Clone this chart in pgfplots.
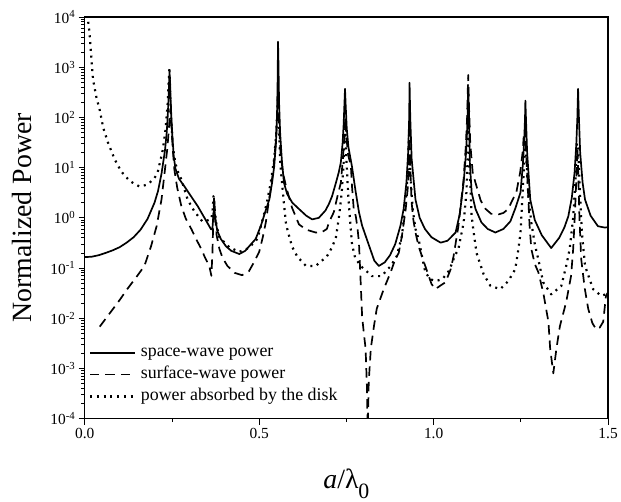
\documentclass[border=0pt]{standalone}
\usepackage{pgfplots}
\pgfplotsset{compat=1.18}
\usepackage{fontspec}
\setmainfont{Liberation Serif}

\begin{document}
\begin{tikzpicture}
\begin{axis}[
  scale only axis, width=525bp, height=403bp,
  xmin=0, xmax=1.5, ymin=1e-4, ymax=1e4, ymode=log,
  axis line style={line width=1.2bp},
  xtick={0,0.5,1.0,1.5}, xticklabels={0.0,0.5,1.0,1.5},
  minor xtick={0.25,0.75,1.25},
  ytick={1e-4,1e-3,1e-2,1e-1,1,1e1,1e2,1e3,1e4},
  yticklabels={10\textsuperscript{-4},10\textsuperscript{-3},10\textsuperscript{-2},10\textsuperscript{-1},10\textsuperscript{0},10\textsuperscript{1},10\textsuperscript{2},10\textsuperscript{3},10\textsuperscript{4}},
  tick pos=left, tick align=outside,
  major tick length=6bp, minor tick length=3.5bp,
  every tick/.style={black, line width=0.8bp},
  ticklabel style={font=\fontsize{15.5}{15.5}\selectfont},
  xlabel={\textit{a}/λ\raisebox{-0.36em}{\fontsize{22}{22}\selectfont 0}},
  ylabel={Normalized Power},
  every axis x label/.style={at={(axis description cs:0.5,0)}, yshift=-70bp, anchor=base, font=\fontsize{28}{28}\selectfont},
  every axis y label/.style={at={(axis description cs:0,0.5)}, xshift=-63bp, rotate=90, anchor=center, font=\fontsize{28}{28}\selectfont},
  legend cell align=left,
  legend image code/.code={\draw[#1] (0bp,0bp) -- (45bp,0bp); \path (48bp,0bp);},
  legend style={at={(axis description cs:0,0)}, anchor=south west, xshift=1bp, yshift=9bp, draw=none, fill=none,
    font=\fontsize{18}{21}\selectfont, row sep=0pt,
    nodes={inner sep=2bp, text height=13bp, text depth=5bp}},
  every axis plot/.append style={line width=1.7bp, line join=round},
]
\addplot[black, solid] coordinates {
(0.000,0.165) (0.02,0.168) (0.04,0.18) (0.06,0.20) (0.08,0.225) (0.10,0.26) (0.12,0.32) (0.14,0.41) (0.16,0.58) (0.18,0.95)
(0.20,2.0) (0.21,3.4) (0.22,7.5) (0.23,22) (0.235,50) (0.238,110) (0.240,220) (0.242,550) (0.243,800) (0.244,600)
(0.246,250) (0.248,110) (0.251,45) (0.255,17) (0.26,9.5) (0.27,6) (0.286,4.2) (0.30,3) (0.324,1.7) (0.345,0.95)
(0.362,0.59) (0.366,0.6) (0.369,1.2) (0.371,1.7) (0.374,1.0) (0.38,0.55) (0.39,0.38) (0.405,0.27) (0.42,0.22) (0.443,0.19)
(0.46,0.22) (0.475,0.29) (0.49,0.38) (0.505,0.7) (0.52,1.5) (0.529,2.3) (0.537,5) (0.543,10.5) (0.548,30) (0.551,100)
(0.553,600) (0.554,3200) (0.555,1500) (0.557,200) (0.56,50) (0.565,14) (0.571,5) (0.58,3) (0.595,2) (0.614,1.5)
(0.635,1.1) (0.652,0.93) (0.671,1.0) (0.69,1.4) (0.70,1.9) (0.709,2.7) (0.72,5) (0.728,8) (0.734,12.6) (0.739,30)
(0.742,70) (0.744,160) (0.746,370) (0.748,170) (0.751,60) (0.756,25) (0.766,10.5) (0.776,3.5) (0.786,1.3) (0.795,0.7)
(0.81,0.35) (0.83,0.14) (0.843,0.11) (0.86,0.13) (0.875,0.18) (0.89,0.3) (0.905,0.7) (0.914,1.5) (0.922,5) (0.927,20)
(0.93,100) (0.931,490) (0.933,100) (0.937,15) (0.948,2.3) (0.96,1.0) (0.975,0.6) (0.994,0.41) (1.02,0.32) (1.04,0.35)
(1.063,0.51) (1.075,1.2) (1.086,5) (1.093,20) (1.097,80) (1.099,400) (1.101,150) (1.104,12) (1.109,3.2) (1.12,1.5)
(1.137,0.81) (1.155,0.6) (1.177,0.51) (1.2,0.6) (1.22,0.85) (1.235,1.6) (1.249,3.2) (1.256,12) (1.26,40) (1.262,100)
(1.263,215) (1.265,80) (1.268,20) (1.277,2.3) (1.29,0.9) (1.31,0.45) (1.337,0.25) (1.36,0.4) (1.375,0.65) (1.386,1.07)
(1.396,2.5) (1.404,8) (1.409,30) (1.412,100) (1.414,370) (1.416,120) (1.42,20) (1.427,5) (1.434,2.3) (1.45,1.1)
(1.471,0.68) (1.49,0.64) (1.5,0.65)
};
\addlegendentry{space-wave power}
\addplot[black, dash pattern=on 9.5bp off 6bp] coordinates {
(0.043,0.0068) (0.06,0.0098) (0.08,0.015) (0.10,0.023) (0.123,0.039) (0.15,0.069) (0.171,0.11) (0.19,0.27) (0.206,0.68) (0.22,2.3)
(0.229,8) (0.237,25) (0.242,70) (0.245,140) (0.246,150) (0.249,60) (0.252,25) (0.257,9) (0.265,4) (0.277,1.7)
(0.29,0.95) (0.306,0.59) (0.32,0.37) (0.334,0.24) (0.345,0.16) (0.357,0.11) (0.363,0.07) (0.366,0.2) (0.369,1.2) (0.371,2.7)
(0.374,1.0) (0.378,0.45) (0.386,0.24) (0.395,0.16) (0.409,0.11) (0.43,0.08) (0.451,0.072) (0.471,0.087) (0.485,0.13) (0.50,0.21)
(0.51,0.4) (0.519,0.81) (0.527,2) (0.533,3.7) (0.541,10) (0.547,30) (0.551,80) (0.553,150) (0.555,200) (0.557,80)
(0.561,20) (0.568,8) (0.577,4.2) (0.594,1.6) (0.614,0.74) (0.635,0.58) (0.662,0.51) (0.68,0.52) (0.694,0.6) (0.70,0.81)
(0.714,1.3) (0.725,2.8) (0.734,5) (0.74,15) (0.744,40) (0.747,100) (0.750,40) (0.755,18) (0.763,10.5) (0.766,4.3)
(0.771,1.5) (0.777,1.07) (0.782,0.6) (0.786,0.32) (0.791,0.05) (0.795,0.011) (0.800,0.005) (0.805,0.0025) (0.809,0.0004) (0.811,0.00005)
(0.814,0.00054) (0.82,0.0025) (0.829,0.007) (0.837,0.0155) (0.857,0.038) (0.877,0.083) (0.89,0.15) (0.9,0.2) (0.909,0.43) (0.92,1.5)
(0.926,4) (0.929,10) (0.931,40) (0.933,10) (0.937,2) (0.942,0.9) (0.948,0.51) (0.957,0.27) (0.976,0.11) (0.994,0.048)
(1.005,0.038) (1.02,0.045) (1.034,0.052) (1.049,0.095) (1.057,0.17) (1.071,0.68) (1.08,2.5) (1.086,6) (1.092,25) (1.096,100)
(1.099,700) (1.101,200) (1.105,30) (1.112,8) (1.12,5) (1.135,2.2) (1.149,1.5) (1.165,1.2) (1.186,1.17) (1.2,1.25)
(1.214,1.5) (1.225,2.2) (1.237,3.2) (1.248,8) (1.255,20) (1.259,50) (1.262,60) (1.265,20) (1.27,4) (1.275,0.7)
(1.28,0.24) (1.29,0.12) (1.3,0.083) (1.314,0.033) (1.329,0.0085) (1.334,0.0025) (1.343,0.0008) (1.352,0.0025) (1.362,0.007) (1.38,0.021)
(1.394,0.07) (1.4,0.24) (1.405,1.2) (1.409,6) (1.412,25) (1.414,10) (1.418,1.0) (1.423,0.15) (1.433,0.04) (1.443,0.0155)
(1.455,0.008) (1.466,0.006) (1.476,0.0065) (1.486,0.0085) (1.494,0.028) (1.5,0.033)
};
\addlegendentry{surface-wave power}
\addplot[black, dash pattern=on 2bp off 4.8bp, line width=2.2bp] coordinates {
(0.010,8000) (0.014,4700) (0.020,1200) (0.024,560) (0.033,260) (0.043,140) (0.053,62) (0.067,31) (0.086,14.5) (0.105,8.3)
(0.129,5.4) (0.157,4.2) (0.175,4.5) (0.186,5) (0.2,6.2) (0.209,8) (0.218,15) (0.224,23) (0.232,60) (0.238,200)
(0.241,600) (0.243,1000) (0.245,300) (0.248,80) (0.253,25) (0.26,12) (0.268,8) (0.277,5.8) (0.295,2.3) (0.314,1.35)
(0.337,0.85) (0.355,0.9) (0.363,0.95) (0.367,1.5) (0.369,2.7) (0.372,1.5) (0.378,0.7) (0.386,0.41) (0.414,0.26) (0.443,0.21)
(0.47,0.25) (0.495,0.38) (0.51,0.93) (0.522,2) (0.533,5) (0.543,15) (0.549,50) (0.553,200) (0.555,300) (0.557,60)
(0.56,15) (0.562,9) (0.571,1.9) (0.577,0.74) (0.586,0.43) (0.594,0.27) (0.609,0.17) (0.634,0.11) (0.662,0.11) (0.694,0.17)
(0.709,0.26) (0.72,0.41) (0.73,1.2) (0.737,3.5) (0.742,12) (0.745,50) (0.747,60) (0.749,20) (0.755,3) (0.76,1.0)
(0.766,0.3) (0.775,0.16) (0.791,0.11) (0.823,0.069) (0.851,0.069) (0.877,0.11) (0.894,0.17) (0.909,0.43) (0.92,2) (0.926,8)
(0.93,60) (0.933,8) (0.94,1.5) (0.948,0.6) (0.957,0.37) (0.976,0.083) (0.99,0.06) (1.006,0.055) (1.025,0.06) (1.045,0.09)
(1.06,0.17) (1.071,0.24) (1.086,0.8) (1.094,3.2) (1.098,20) (1.1,80) (1.103,10) (1.109,1.07) (1.115,0.5) (1.123,0.2)
(1.143,0.076) (1.163,0.044) (1.191,0.038) (1.214,0.055) (1.234,0.095) (1.243,0.24) (1.249,0.5) (1.255,3) (1.26,15) (1.263,50)
(1.266,15) (1.271,3) (1.28,0.8) (1.29,0.3) (1.3,0.15) (1.314,0.052) (1.337,0.03) (1.366,0.044) (1.38,0.11) (1.39,0.24)
(1.4,1) (1.406,5) (1.411,30) (1.414,30) (1.418,5) (1.425,0.5) (1.434,0.11) (1.457,0.038) (1.48,0.028) (1.494,0.03)
(1.5,0.028)
};
\addlegendentry{power absorbed by the disk}
\end{axis}
\path ([shift={(-85bp,-80bp)}]current axis.south west) rectangle ([shift={(536bp,420bp)}]current axis.south west);
\end{tikzpicture}
\end{document}
